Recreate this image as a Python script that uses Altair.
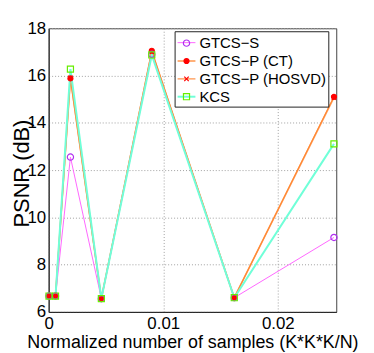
import altair as alt
import pandas as pd

# ---- data ----
x_vals = [0.00003, 0.0006, 0.0019, 0.0046, 0.0090, 0.0162, 0.0249]
series_names = ["GTCS−S", "GTCS−P (CT)", "GTCS−P (HOSVD)", "KCS"]
gtcs_s = [6.67, 6.67, 12.55, 6.56, 16.90, 6.60, 9.15]
gtcs_p_ct = [6.67, 6.67, 15.88, 6.57, 17.05, 6.60, 15.10]
gtcs_p_hosvd = [6.67, 6.67, 15.90, 6.57, 17.00, 6.60, 15.07]
kcs = [6.67, 6.67, 16.27, 6.56, 16.87, 6.60, 13.11]
x_ticks = [0, 0.01, 0.02]
y_ticks = [6, 8, 10, 12, 14, 16, 18]

# ---- styles ----
line_colors = ["#ff66ff", "#ff8833", "#ffb07a", "#70ffd8"]
line_widths = [1.0, 2.0, 3.0, 1.5]
marker_colors = ["#b030f0", "#ff0000", "#ff0000", "#66ee00"]
marker_fills = ["transparent", "#ff0000", "transparent", "transparent"]
marker_shapes = [
    "M0.35,0A0.35,0.35 0 1,1 -0.35,0A0.35,0.35 0 1,1 0.35,0Z",
    "M0.28,0A0.28,0.28 0 1,1 -0.28,0A0.28,0.28 0 1,1 0.28,0Z",
    "M-0.25,-0.25L0.25,0.25M-0.25,0.25L0.25,-0.25",
    "M-0.34,-0.34H0.34V0.34H-0.34Z",
]

series_vals = [gtcs_s, gtcs_p_ct, gtcs_p_hosvd, kcs]
# marker legend keys differ (trailing space) so the two legends stay separate
marker_keys = [n + " " for n in series_names]
draw_order = [2, 1, 0, 3]  # z-order for lines
rows = []
for i in draw_order:
    for xv, yv in zip(x_vals, series_vals[i]):
        rows.append({"x": xv, "y": yv, "series": series_names[i], "marker": marker_keys[i]})
df = pd.DataFrame(rows)

FONT = "Liberation Sans"

xenc = alt.X(
    "x:Q",
    scale=alt.Scale(domain=[0, 0.0251], nice=False, zero=False),
    axis=alt.Axis(
        values=x_ticks, format=".2~f", title="Normalized number of samples (K*K*K/N)",
        grid=True, gridDash=[1, 2], gridColor="#a0a0a0", ticks=False,
        labelFlush=False, labelOverlap=False, labelPadding=4,
        labelFontSize=17, titleFontSize=18, titlePadding=2,
        domainColor="#222222",
    ),
)
yenc = alt.Y(
    "y:Q",
    scale=alt.Scale(domain=[6, 18], nice=False, zero=False),
    axis=alt.Axis(
        values=y_ticks, title="PSNR (dB)",
        grid=True, gridDash=[1, 2], gridColor="#a0a0a0", ticks=False,
        labelFlush=False, labelOverlap=False, labelPadding=3,
        labelFontSize=17, titleFontSize=22,
        titleX=-20.5, titleY=146, titleBaseline="alphabetic", titleAlign="center",
        domainColor="#222222",
    ),
)

legend_common = dict(
    title=None, orient="none", legendX=127, legendY=3,
    symbolSize=324, padding=2, rowPadding=-3, labelOffset=3,
    labelFont=FONT, labelFontSize=15, labelLimit=400,
)

line_legend = alt.Legend(symbolType="stroke", labelColor="black", symbolStrokeWidth=2,
                         strokeColor="#222222", fillColor="white", **legend_common)
mark_legend = alt.Legend(labelColor="transparent", symbolStrokeWidth=1.2, **legend_common)

lines = alt.Chart(df).mark_line().encode(
    x=xenc,
    y=yenc,
    color=alt.Color("series:N", scale=alt.Scale(domain=series_names, range=line_colors),
                    legend=line_legend),
    strokeWidth=alt.StrokeWidth("series:N", scale=alt.Scale(domain=series_names, range=line_widths),
                                legend=None),
)

points = alt.Chart(df).mark_point(size=324, opacity=1, strokeWidth=1.2).encode(
    x="x:Q",
    y="y:Q",
    shape=alt.Shape("marker:N", scale=alt.Scale(domain=marker_keys, range=marker_shapes),
                    legend=mark_legend),
    stroke=alt.Stroke("marker:N", scale=alt.Scale(domain=marker_keys, range=marker_colors),
                      legend=mark_legend),
    fill=alt.Fill("marker:N", scale=alt.Scale(domain=marker_keys, range=marker_fills),
                  legend=mark_legend),
)

chart = (
    alt.layer(lines, points)
    .properties(
        width=290, height=286,
        autosize=alt.AutoSizeParams(type="none"),
        padding={"left": 41, "top": 19, "right": 30, "bottom": 40},
    )
    .configure(font=FONT)
    .configure_view(stroke="#444444", strokeWidth=1)
    .configure_axis(labelFont=FONT, titleFont=FONT, labelColor="black",
                    titleColor="black", titleFontWeight="normal")
)

chart.save("out.html", embed_options={"renderer": "svg", "actions": False})
